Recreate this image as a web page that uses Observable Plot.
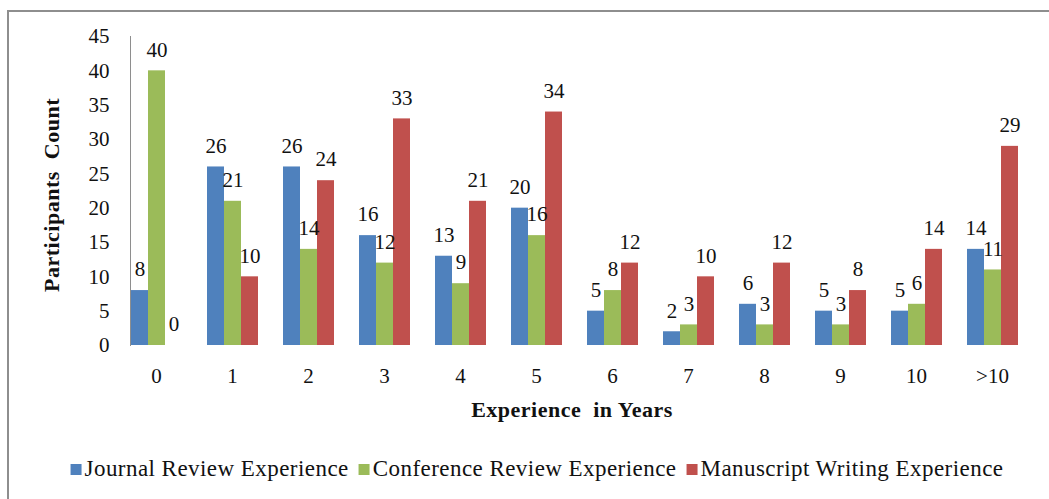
<!DOCTYPE html>
<html>
<head>
<meta charset="utf-8">
<script src="https://cdn.jsdelivr.net/npm/d3@7"></script>
<script src="https://cdn.jsdelivr.net/npm/@observablehq/plot@0.6"></script>
<style>
  html, body { margin: 0; padding: 0; background: #fff; overflow: hidden; }
  #wrap { position: relative; width: 1049px; height: 499px; overflow: hidden; font-family: "Liberation Serif", serif; }
  #border { position: absolute; left: 7px; top: 10px; width: 1100px; height: 600px; border: 2px solid #8e8e8e; box-sizing: border-box; }
  #chart { position: absolute; left: 0; top: 0; }
  .title { position: absolute; font-family: "Liberation Serif", serif; font-weight: bold; font-size: 22px; letter-spacing: 0.5px; color: #111; white-space: nowrap; }
  #xtitle { left: 572px; top: 410px; transform: translate(-50%, -50%); }
  #ytitle { left: 52px; top: 195px; transform: translate(-50%, -50%) rotate(-90deg); }
  #legend { position: absolute; left: 537px; top: 469px; transform: translate(-50%, -50%); display: flex; align-items: center; gap: 10px; font-family: "Liberation Serif", serif; font-size: 23px; letter-spacing: 0.45px; color: #111; white-space: nowrap; }
  .sw { display: inline-block; width: 11px; height: 11px; margin-right: 3px; }
  .item { display: flex; align-items: center; }
</style>
</head>
<body>
<div id="wrap">
  <div id="border"></div>
  <div id="chart"></div>
  <div class="title" id="xtitle">Experience&nbsp; in Years</div>
  <div class="title" id="ytitle">Participants&nbsp; Count</div>
  <div id="legend"></div>
</div>
<script>
const years = ["0", "1", "2", "3", "4", "5", "6", "7", "8", "9", "10", ">10"];
const seriesNames = ["Journal Review Experience", "Conference Review Experience", "Manuscript Writing Experience"];
const seriesColors = ["#4F81BD", "#9BBB59", "#C0504D"];
const journal    = [8, 26, 26, 16, 13, 20, 5, 2, 6, 5, 5, 14];
const conference = [40, 21, 14, 12, 9, 16, 8, 3, 3, 3, 6, 11];
const manuscript = [0, 10, 24, 33, 21, 34, 12, 10, 12, 8, 14, 29];
const yTicks = [0, 5, 10, 15, 20, 25, 30, 35, 40, 45];

const values = [journal, conference, manuscript];
const data = [];
years.forEach((yr, i) => {
  seriesNames.forEach((s, j) => data.push({year: yr, series: s, value: values[j][i]}));
});

const chart = Plot.plot({
  width: 1049,
  height: 420,
  marginLeft: 116,
  marginRight: 17,
  marginTop: 36,
  marginBottom: 75,
  style: {fontFamily: "Liberation Serif, serif", fontSize: "21px", color: "#111", background: "transparent"},
  facet: {data: data, x: "year"},
  fx: {domain: years, paddingInner: 0.32, paddingOuter: 0.16, label: null, tickSize: 0, tickPadding: 23, line: true},
  x: {domain: seriesNames, padding: 0, axis: null},
  y: {domain: [0, 45], ticks: yTicks, tickFormat: d => String(d), tickSize: 0, tickPadding: 21, label: null, line: true},
  color: {domain: seriesNames, range: seriesColors},
  marks: [
    Plot.barY(data, {x: "series", y: "value", fill: "series"}),
    Plot.text(data, {x: "series", y: "value", text: d => String(d.value), dy: -21, fill: "#111", fontSize: 21})
  ]
});
chart.querySelectorAll("[font-family]").forEach(el => el.setAttribute("font-family", "Liberation Serif, serif"));
chart.querySelectorAll("path, line").forEach(el => {
  if (el.getAttribute("stroke") === "currentColor" || el.closest('[aria-label$="axis"]')) el.setAttribute("stroke", "#8e8e8e");
});
document.getElementById("chart").appendChild(chart);

const legend = document.getElementById("legend");
seriesNames.forEach((s, i) => {
  const item = document.createElement("span");
  item.className = "item";
  const sw = document.createElement("span");
  sw.className = "sw";
  sw.style.background = seriesColors[i];
  item.appendChild(sw);
  item.appendChild(document.createTextNode(s));
  legend.appendChild(item);
});
</script>
</body>
</html>
